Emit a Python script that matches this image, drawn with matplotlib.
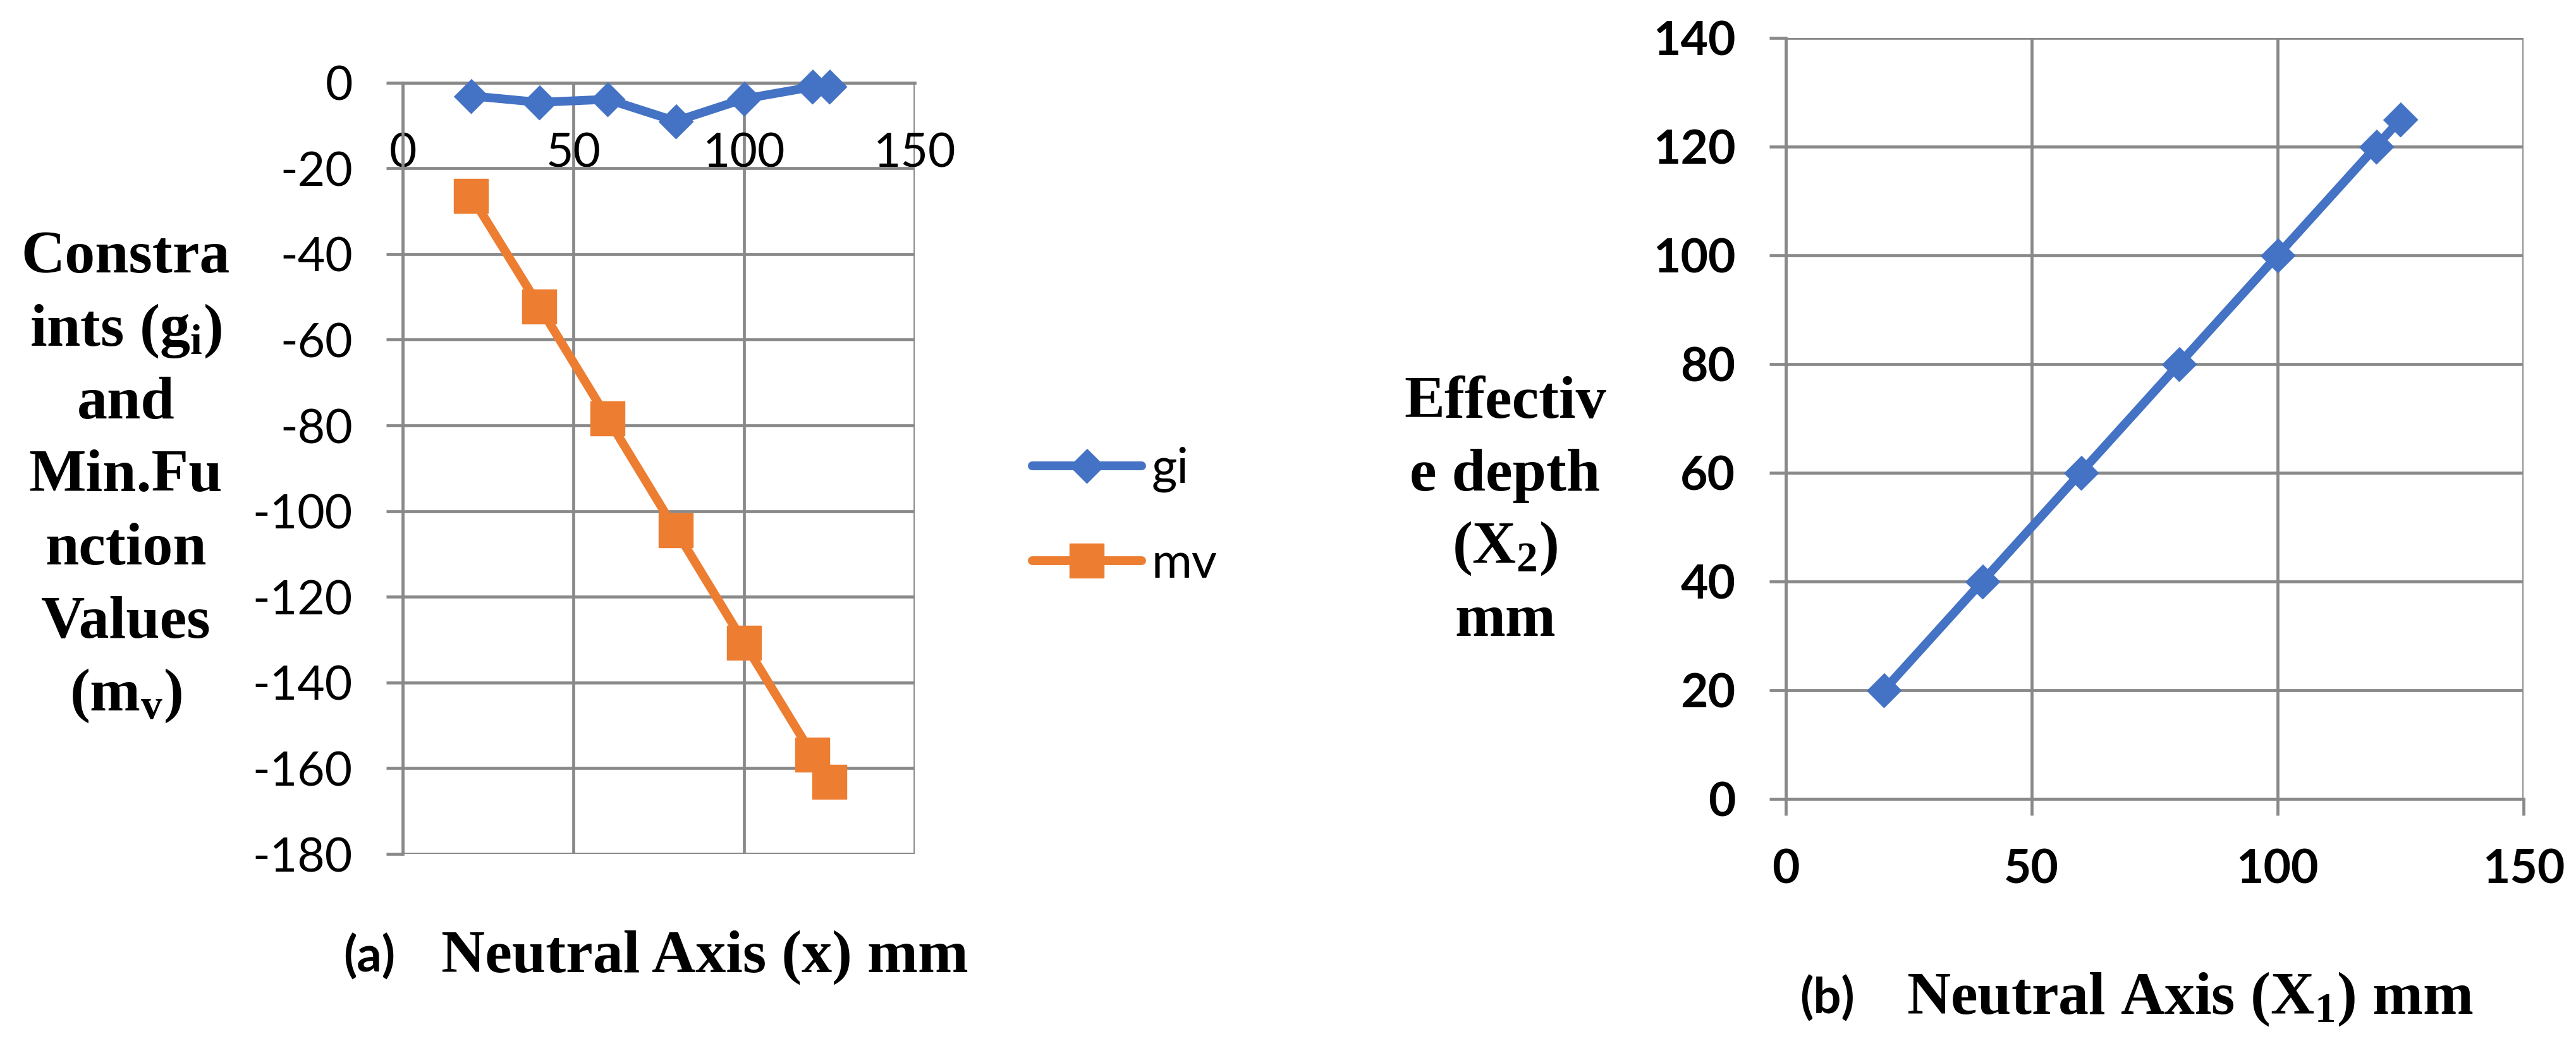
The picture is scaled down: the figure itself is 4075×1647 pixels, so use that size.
import matplotlib
matplotlib.use("Agg")
import matplotlib.pyplot as plt
from matplotlib.lines import Line2D

# ---------------- data ----------------
neutral_axis = [20, 40, 60, 80, 100, 120, 125]
gi_values = [-3.1, -4.6, -3.9, -9.0, -3.8, -1.0, -1.0]
mv_values = [-26.4, -52.2, -78.3, -104.5, -130.7, -156.8, -163.2]
effective_depth = [20, 40, 60, 80, 100, 120, 125]

left_xticks = [0, 50, 100, 150]
left_yticks = [0, -20, -40, -60, -80, -100, -120, -140, -160, -180]
right_xticks = [0, 50, 100, 150]
right_yticks = [0, 20, 40, 60, 80, 100, 120, 140]

series_labels = ["gi", "mv"]

# ---------------- style ----------------
BLUE = "#4472C4"
ORANGE = "#ED7D31"
GRID = "#898989"
W, H = 4075, 1647
DPI = 100

plt.rcParams["axes.unicode_minus"] = False
plt.rcParams["mathtext.fontset"] = "custom"
plt.rcParams["mathtext.rm"] = "Liberation Serif:bold"
plt.rcParams["mathtext.bf"] = "Liberation Serif:bold"
plt.rcParams["mathtext.it"] = "Liberation Serif:bold"

SERIF = "Liberation Serif"
SANS = "Lato"
LBL_SIZE = 69
TICK_SIZE = 54
GRID_LW = 3.4
LINE_LW = 10
MS = 39

diamond = [(0, 1), (1, 0), (0, -1), (-1, 0)]


def fx(px):
    return px / W


def fy(py):
    return 1 - py / H


fig = plt.figure(figsize=(W / DPI, H / DPI), dpi=DPI)

# ---------------- left chart ----------------
axL = fig.add_axes([fx(637), fy(1351), fx(1447) - fx(637), fy(130.7) - fy(1351)])
axL.set_xlim(0, 150)
axL.set_ylim(-180, 0)
axL.set_xticks(left_xticks)
axL.set_yticks(left_yticks)
axL.grid(True, color=GRID, lw=GRID_LW, zorder=0)
axL.set_axisbelow(True)
for s in ["top", "right"]:
    axL.spines[s].set_visible(False)
axL.spines["bottom"].set_position(("data", 0))
for s in ["left", "bottom"]:
    axL.spines[s].set_color(GRID)
    axL.spines[s].set_linewidth(GRID_LW)
axL.tick_params(axis="y", length=19, width=GRID_LW, color=GRID, pad=38,
                labelsize=TICK_SIZE)
axL.tick_params(axis="x", length=0, pad=56, labelsize=TICK_SIZE)
for t in axL.get_xticklabels() + axL.get_yticklabels():
    t.set_fontfamily(SANS)

axL.plot(neutral_axis, gi_values, color=BLUE, lw=LINE_LW, marker=diamond,
         ms=MS, clip_on=False, zorder=3, label=series_labels[0])
axL.plot(neutral_axis, mv_values, color=ORANGE, lw=LINE_LW, marker="s",
         ms=MS, clip_on=False, zorder=3, label=series_labels[1])

# legend
handles = [
    Line2D([], [], color=BLUE, lw=LINE_LW, marker=diamond, ms=MS,
           solid_capstyle="round"),
    Line2D([], [], color=ORANGE, lw=LINE_LW, marker="s", ms=MS,
           solid_capstyle="round"),
]
fig.legend(handles, series_labels, loc="upper left",
           bbox_to_anchor=(fx(1633), fy(707)), frameon=False,
           borderpad=0, borderaxespad=0, handlelength=2.22,
           handletextpad=0.2, labelspacing=1.0, numpoints=1,
           prop={"family": SANS, "size": 56})

# left y-label lines
left_lines = ["Constra", r"ints (g$_{\mathrm{i}}$)", "and", "Min.Fu",
              "nction", "Values", r"(m$_{\mathrm{v}}$)"]
base0, pitch = 431, 115.5
for i, line in enumerate(left_lines):
    fig.text(fx(199), fy(base0 + i * pitch), line, ha="center",
             va="baseline", fontfamily=SERIF, fontweight="bold",
             fontsize=LBL_SIZE)

fig.text(fx(543), fy(1538), "(a)", ha="left", va="baseline",
         fontfamily=SANS, fontweight="bold", fontsize=TICK_SIZE + 2)
fig.text(fx(698), fy(1538), "Neutral Axis (x) mm", ha="left",
         va="baseline", fontfamily=SERIF, fontweight="bold",
         fontsize=LBL_SIZE)

# ---------------- right chart ----------------
axR = fig.add_axes([fx(2824.5), fy(1264), fx(3992) - fx(2824.5), fy(60) - fy(1264)])
axR.set_xlim(0, 150)
axR.set_ylim(0, 140)
axR.set_xticks(right_xticks)
axR.set_yticks(right_yticks)
axR.grid(True, color=GRID, lw=GRID_LW, zorder=0)
axR.set_axisbelow(True)
for s in ["top", "right"]:
    axR.spines[s].set_visible(False)
for s in ["left", "bottom"]:
    axR.spines[s].set_color(GRID)
    axR.spines[s].set_linewidth(GRID_LW)
axR.tick_params(axis="both", length=19, width=GRID_LW, color=GRID,
                labelsize=TICK_SIZE)
axR.tick_params(axis="y", pad=38)
axR.tick_params(axis="x", pad=37)
for t in axR.get_xticklabels() + axR.get_yticklabels():
    t.set_fontfamily(SANS)
    t.set_fontweight("bold")

axR.plot(neutral_axis, effective_depth, color=BLUE, lw=LINE_LW,
         marker=diamond, ms=MS, clip_on=False, zorder=3)

right_lines = ["Effectiv", "e depth", r"(X$_{\mathrm{2}}$)", "mm"]
base0r, pitchr = 661, 115
for i, line in enumerate(right_lines):
    fig.text(fx(2381), fy(base0r + i * pitchr), line, ha="center",
             va="baseline", fontfamily=SERIF, fontweight="bold",
             fontsize=LBL_SIZE)

fig.text(fx(2847), fy(1604), "(b)", ha="left", va="baseline",
         fontfamily=SANS, fontweight="bold", fontsize=TICK_SIZE + 2)
fig.text(fx(3016), fy(1604), r"Neutral Axis (X$_{\mathrm{1}}$) mm", ha="left",
         va="baseline", fontfamily=SERIF, fontweight="bold",
         fontsize=LBL_SIZE)

fig.savefig("out.png", dpi=DPI, facecolor="white")
